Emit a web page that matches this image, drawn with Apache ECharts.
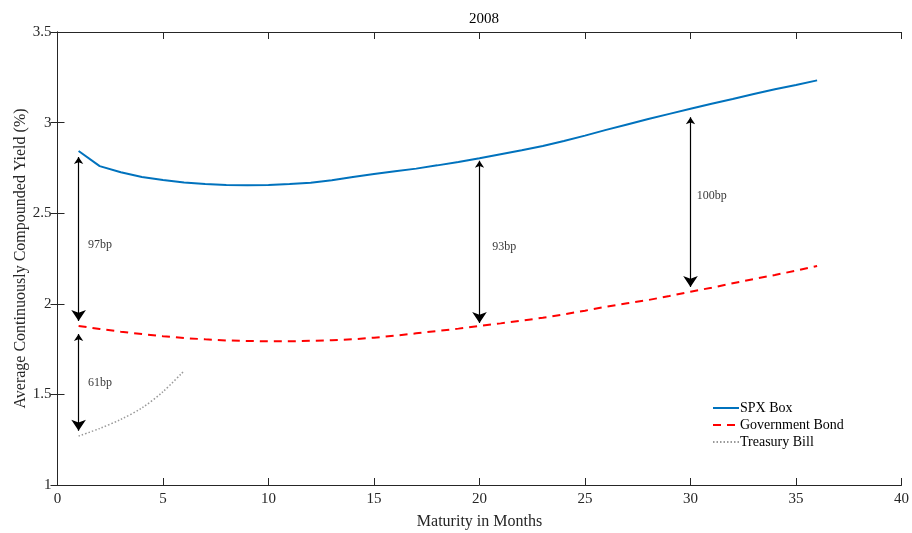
<!DOCTYPE html>
<html>
<head>
<meta charset="utf-8">
<script src="https://cdn.jsdelivr.net/npm/echarts@6/dist/echarts.min.js"></script>
<style>
  html, body { margin: 0; padding: 0; background: #fff; }
  #chart { width: 912px; height: 533px; }
</style>
</head>
<body>
<div id="chart"></div>
<script>
// months to maturity
const months = [1, 2, 3, 4, 5, 6, 7, 8, 9, 10, 11, 12, 13, 14, 15, 16, 17, 18,
  19, 20, 21, 22, 23, 24, 25, 26, 27, 28, 29, 30, 31, 32, 33, 34, 35, 36]
const spxBox = [2.843, 2.760, 2.726, 2.700, 2.683, 2.670, 2.661, 2.656, 2.654, 2.656,
  2.661, 2.668, 2.682, 2.700, 2.716, 2.731, 2.746, 2.764, 2.783, 2.803,
  2.825, 2.847, 2.871, 2.898, 2.928, 2.960, 2.990, 3.020, 3.048, 3.076,
  3.104, 3.130, 3.158, 3.184, 3.208, 3.233]
const govBond = [1.878, 1.861, 1.846, 1.833, 1.821, 1.811, 1.804, 1.798, 1.795, 1.793,
  1.793, 1.796, 1.799, 1.804, 1.813, 1.824, 1.837, 1.850, 1.863, 1.878,
  1.892, 1.907, 1.923, 1.942, 1.962, 1.984, 2.003, 2.021, 2.043, 2.067,
  2.089, 2.113, 2.137, 2.159, 2.183, 2.209]
const billMonths = [1, 2, 3, 4, 5, 6]
const tBill = [1.270, 1.312, 1.362, 1.425, 1.515, 1.630]

// spread arrows: [x, top, bottom]
const arrows = [
  [1, 2.81, 1.905],
  [1, 1.833, 1.30],
  [20, 2.79, 1.894],
  [30, 3.03, 2.093]
]
// spread labels: [x, y, text]
const spreadLabels = [
  [1.45, 2.325, '97bp'],
  [1.45, 1.563, '61bp'],
  [20.6, 2.313, '93bp'],
  [30.3, 2.595, '100bp']
]

const font = 'Liberation Serif'
const ink = '#262626'

const chart = echarts.init(document.getElementById('chart'))

const tick = () => ({ inside: true, length: 7, lineStyle: { color: ink, width: 1 } })
const axisLine = () => ({ show: true, lineStyle: { color: ink, width: 1 } })

const options = {
  animation: false,
  backgroundColor: '#fff',
  title: {
    text: '2008',
    left: 479,
    top: 7,
    textAlign: 'center',
    textStyle: { fontFamily: font, fontSize: 15, fontWeight: 'normal', color: '#000' }
  },
  legend: {
    orient: 'vertical',
    left: 707,
    top: 396,
    itemWidth: 26,
    itemHeight: 10,
    itemGap: 3,
    itemStyle: { opacity: 0 },
    data: ['SPX Box', 'Government Bond', 'Treasury Bill'],
    textStyle: { fontFamily: font, fontSize: 14, color: '#000', padding: [0, 0, 0, -4] }
  },
  grid: { left: 57.5, right: 10.5, top: 32, bottom: 48, outerBoundsMode: 'none' },
  xAxis: [
    {
      type: 'value',
      min: 0,
      max: 40,
      interval: 5,
      name: 'Maturity in Months',
      nameLocation: 'middle',
      nameGap: 29,
      nameMoveOverlap: false,
      nameTextStyle: { fontFamily: font, fontSize: 16, color: ink },
      axisLine: axisLine(),
      axisTick: tick(),
      splitLine: { show: false },
      axisLabel: { fontFamily: font, fontSize: 15, color: ink, margin: 7 }
    },
    {
      type: 'value',
      position: 'top',
      min: 0,
      max: 40,
      interval: 5,
      axisLine: axisLine(),
      axisTick: tick(),
      splitLine: { show: false },
      axisLabel: { show: false }
    }
  ],
  yAxis: [
    {
      type: 'value',
      min: 1,
      max: 3.5,
      interval: 0.5,
      name: 'Average Continuously Compounded Yield (%)',
      nameLocation: 'middle',
      nameGap: 29,
      nameMoveOverlap: false,
      nameTextStyle: { fontFamily: font, fontSize: 16, color: ink },
      axisLine: axisLine(),
      axisTick: tick(),
      splitLine: { show: false },
      axisLabel: { fontFamily: font, fontSize: 15, color: ink, margin: 6 }
    },
    {
      type: 'value',
      position: 'right',
      min: 1,
      max: 3.5,
      interval: 0.5,
      axisLine: axisLine(),
      axisTick: tick(),
      splitLine: { show: false },
      axisLabel: { show: false }
    }
  ],
  series: [
    {
      name: 'SPX Box',
      type: 'line',
      data: months.map((m, i) => [m, spxBox[i]]),
      symbol: 'none',
      color: '#0072BD',
      lineStyle: { color: '#0072BD', width: 2 }
    },
    {
      name: 'Government Bond',
      type: 'line',
      data: months.map((m, i) => [m, govBond[i]]),
      symbol: 'none',
      color: '#FF0000',
      lineStyle: { color: '#FF0000', width: 2, type: [8, 6] }
    },
    {
      name: 'Treasury Bill',
      type: 'line',
      data: billMonths.map((m, i) => [m, tBill[i]]),
      symbol: 'none',
      smooth: 0.3,
      color: '#999999',
      lineStyle: { color: '#999999', width: 1.5, type: [1.5, 2] }
    },
    {
      name: 'spreads',
      type: 'lines',
      coordinateSystem: 'cartesian2d',
      symbol: ['arrow', 'arrow'],
      symbolSize: [7, 11],
      lineStyle: { color: '#000', width: 1.2, opacity: 1 },
      itemStyle: { color: '#000' },
      data: arrows.map((a) => ({ coords: [[a[0], a[1]], [a[0], a[2]]] })),
      silent: true,
      z: 5
    },
    {
      name: 'spread labels',
      type: 'scatter',
      symbolSize: 0,
      data: spreadLabels.map((l) => ({ value: [l[0], l[1]], name: l[2] })),
      label: {
        show: true,
        position: 'right',
        distance: 0,
        formatter: '{b}',
        fontFamily: font,
        fontSize: 12,
        color: '#000'
      },
      silent: true
    }
  ]
}

chart.setOption(options)
</script>
</body>
</html>
